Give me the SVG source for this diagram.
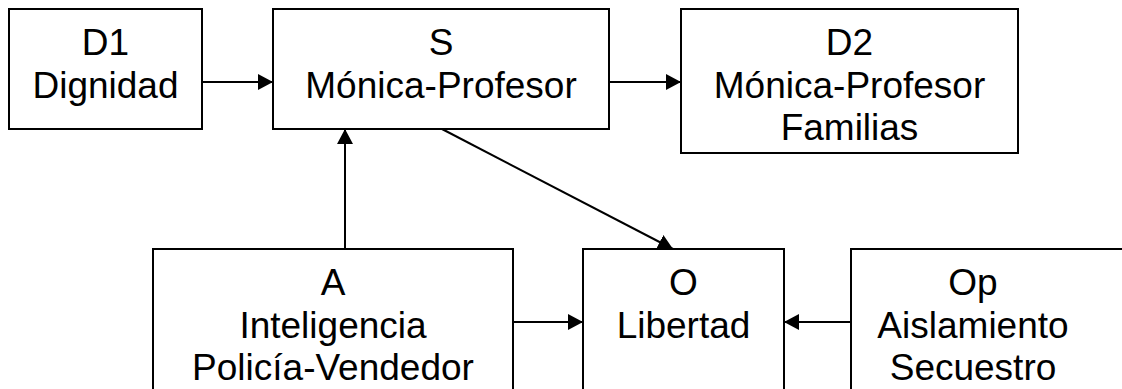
<svg xmlns="http://www.w3.org/2000/svg" width="1122" height="389" viewBox="0 0 1122 389">
<defs>
<style>
.box{fill:#fff;stroke:#000;stroke-width:2}
.t{font-family:"Liberation Sans",Arial,sans-serif;font-size:37px;fill:#000;text-anchor:middle}
.c{stroke:#000;stroke-width:2;fill:none;marker-end:url(#ah)}
</style>
<marker id="ah" markerUnits="userSpaceOnUse" viewBox="0 0 15 16" refX="15" refY="8" markerWidth="15" markerHeight="16" orient="auto">
<path d="M0,0 L15,8 L0,16 z" fill="#000"/>
</marker>
</defs>
<rect width="1122" height="389" fill="#fff"/>
<g id="D1">
<rect class="box" x="9" y="9" width="193" height="120"/>
<text class="t" x="105.5" y="55">D1</text>
<text class="t" x="105.5" y="97.5">Dignidad</text>
</g>
<g id="S">
<rect class="box" x="273" y="9" width="336" height="120"/>
<text class="t" x="441" y="55">S</text>
<text class="t" x="441" y="97.5">Mónica-Profesor</text>
</g>
<g id="D2">
<rect class="box" x="681" y="9" width="337" height="144"/>
<text class="t" x="849.5" y="55">D2</text>
<text class="t" x="849.5" y="97.5">Mónica-Profesor</text>
<text class="t" x="849.5" y="140">Familias</text>
</g>
<g id="A">
<rect class="box" x="153" y="249" width="360" height="160"/>
<text class="t" x="333" y="295">A</text>
<text class="t" x="333" y="337.5">Inteligencia</text>
<text class="t" x="333" y="380">Policía-Vendedor</text>
</g>
<g id="O">
<rect class="box" x="583" y="249" width="201" height="160"/>
<text class="t" x="683.5" y="295">O</text>
<text class="t" x="683.5" y="337.5">Libertad</text>
</g>
<g id="Op">
<rect class="box" x="851" y="249" width="290" height="160"/>
<text class="t" x="973" y="295">Op</text>
<text class="t" x="973" y="337.5">Aislamiento</text>
<text class="t" x="973" y="380">Secuestro</text>
</g>
<g id="connectors">
<line class="c" x1="202" y1="82" x2="273" y2="82"/>
<line class="c" x1="609" y1="82" x2="681" y2="82"/>
<line class="c" x1="345" y1="249" x2="345" y2="129"/>
<line class="c" x1="442" y1="129" x2="673" y2="249"/>
<line class="c" x1="513" y1="322" x2="583" y2="322"/>
<line class="c" x1="851" y1="322" x2="784" y2="322"/>
</g>
</svg>
